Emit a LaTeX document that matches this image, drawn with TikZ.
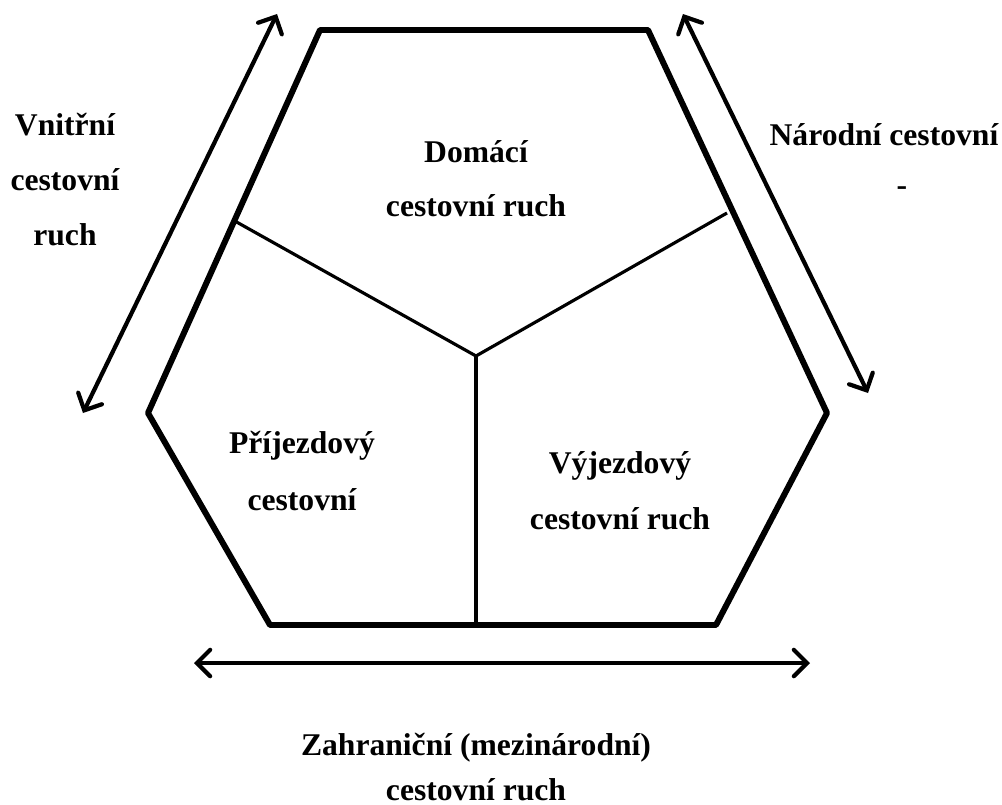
\documentclass[tikz,border=0pt]{standalone}
\usepackage{fontspec}
\setmainfont{Liberation Serif}
\usetikzlibrary{arrows.meta}
\begin{document}
\begin{tikzpicture}[x=0.02cm,y=-0.02cm,
    label/.style={anchor=base,inner sep=0pt,font=\bfseries\fontsize{18}{22}\selectfont},
    outline/.style={line width=3.4pt,line join=round},
    split/.style={line width=1.8pt},
    span/.style={line width=2.4pt,line cap=round,
      {Straight Barb[length=7.5pt,width=15pt,line cap=round]}-{Straight Barb[length=7.5pt,width=15pt,line cap=round]}}]
  \useasboundingbox (0,0) rectangle (1002,805);
  % hexagon corners
  \coordinate (tl) at (320,30);
  \coordinate (tr) at (648,30);
  \coordinate (r) at (827,413);
  \coordinate (br) at (716,625);
  \coordinate (bl) at (270,625);
  \coordinate (l) at (148,413);
  \coordinate (c) at (476,356);
  \coordinate (cl) at (233,220);
  \coordinate (cr) at (727,213);
  \coordinate (cb) at (476,625);
  \draw[outline] (tl) -- (tr) -- (r) -- (br) -- (bl) -- (l) -- cycle;
  \draw[split] (cl) -- (c) -- (cr);
  \draw[split] (c) -- (cb);
  % arrows
  \coordinate (la) at (277,14);
  \coordinate (lb) at (83,413);
  \coordinate (ra) at (683,14);
  \coordinate (rb) at (868,393);
  \coordinate (ba) at (194,663);
  \coordinate (bb) at (810,663);
  \draw[span] (la) -- (lb);
  \draw[span] (ra) -- (rb);
  \draw[span] (ba) -- (bb);
  % texts
  \node[label] (dom1) at (476,162) {Domácí};
  \node[label] (dom2) at (476,216) {cestovní ruch};
  \node[label] (pri1) at (302,453) {Příjezdový};
  \node[label] (pri2) at (302,510) {cestovní};
  \node[label] (vyj1) at (620,473) {Výjezdový};
  \node[label] (vyj2) at (620,529) {cestovní ruch};
  \node[label] (vni1) at (65,135) {Vnitřní};
  \node[label] (vni2) at (65,190) {cestovní};
  \node[label] (vni3) at (65,245) {ruch};
  \node[label] (nar1) at (884,145) {Národní cestovní};
  \node[label] (nar2) at (902,195) {-};
  \node[label] (zah1) at (476,755) {Zahraniční (mezinárodní)};
  \node[label] (zah2) at (476,800) {cestovní ruch};
\end{tikzpicture}
\end{document}
